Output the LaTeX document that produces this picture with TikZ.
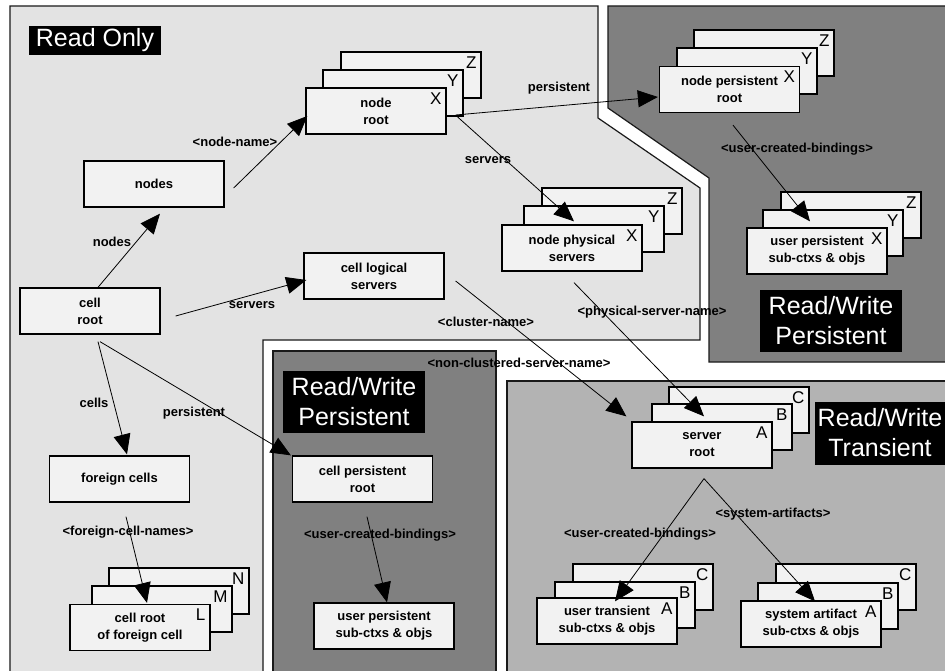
\documentclass[tikz,border=0pt]{standalone}
\usepackage{fontspec}
\setmainfont{Liberation Sans}
\usetikzlibrary{arrows.meta}
\definecolor{rofill}{HTML}{E3E3E3}
\definecolor{pfill}{HTML}{808080}
\definecolor{tfill}{HTML}{B3B3B3}
\definecolor{bfill}{HTML}{F2F2F2}
\definecolor{rim}{HTML}{1A1A1A}
\begin{document}
\begin{tikzpicture}[x=1pt,y=-1pt,
  region/.style={draw=rim, line width=1.2pt},
  ctx/.style={draw=black, line width=1.3pt, fill=bfill, minimum width=140pt,
    minimum height=46pt, inner sep=0pt, align=center,
    font=\fontsize{13}{17}\selectfont\bfseries},
  tag/.style={anchor=north east, inner sep=0pt, xshift=-5pt, yshift=-5pt,
    font=\fontsize{17}{17}\selectfont},
  lbl/.style={inner sep=0pt, font=\fontsize{13}{15}\selectfont\bfseries},
  zone/.style={fill=black, text=white, inner sep=0pt, align=center,
    font=\fontsize{25}{30}\selectfont},
  arr/.style={draw=black, line width=0.8pt, -{Triangle[length=20pt,width=17pt]}}
]
\useasboundingbox (0,0) rectangle (945,671);
\clip (0,0) rectangle (945,671);
\fill[white] (0,0) rectangle (945,671);

% access regions
\path[region, fill=rofill] (10,6) -- (598,6) -- (598,118) -- (700,188) -- (700,340)
  -- (263,340) -- (263,690) -- (10,690) -- cycle;
\path[region, fill=pfill] (608,6) -- (960,6) -- (960,362) -- (709,362) -- (709,178)
  -- (608,108) -- cycle;
\path[region, fill=pfill] (273,351) -- (496,351) -- (496,690) -- (273,690) -- cycle;
\path[region, fill=tfill] (507,381) -- (960,381) -- (960,690) -- (507,690) -- cycle;

% region titles
\node[zone, minimum width=132pt, minimum height=29pt] (tro) at (95,40.5) {Read Only};
\node[zone, minimum width=142pt, minimum height=62pt] (trwp) at (831,321) {Read/Write\\Persistent};
\node[zone, minimum width=142pt, minimum height=62pt] (trwc) at (354,402) {Read/Write\\Persistent};
\node[zone, minimum width=130pt, minimum height=63pt] (trwt) at (880,433) {Read/Write\\Transient};

% single contexts
\node[ctx] (nodes) at (154,184) {nodes};
\node[ctx] (cellroot) at (90,311) {cell\\root};
\node[ctx] (cls) at (374,276) {cell logical\\servers};
\node[ctx] (fc) at (119.5,479) {foreign cells};
\node[ctx] (cpr) at (362.5,479) {cell persistent\\root};
\node[ctx] (upc) at (384,626) {user persistent\\sub-ctxs \& objs};

% node root stack
\node[ctx] (nrZ) at (411,75) {};
\node[tag] (nrZt) at (nrZ.north east) {Z};
\node[ctx] (nrY) at (393,93) {};
\node[tag] (nrYt) at (nrY.north east) {Y};
\node[ctx] (nr) at (376,111) {node\\root};
\node[tag] (nrXt) at (nr.north east) {X};

% node persistent root stack
\node[ctx] (nprZ) at (764,53) {};
\node[tag] (nprZt) at (nprZ.north east) {Z};
\node[ctx] (nprY) at (747,71) {};
\node[tag] (nprYt) at (nprY.north east) {Y};
\node[ctx] (npr) at (729.5,89.5) {node persistent\\root};
\node[tag] (nprXt) at (npr.north east) {X};

% user persistent (node) stack
\node[ctx] (uptZ) at (851,215) {};
\node[tag] (uptZt) at (uptZ.north east) {Z};
\node[ctx] (uptY) at (833,233) {};
\node[tag] (uptYt) at (uptY.north east) {Y};
\node[ctx] (upt) at (817,251) {user persistent\\sub-ctxs \& objs};
\node[tag] (uptXt) at (upt.north east) {X};

% node physical servers stack
\node[ctx] (npsZ) at (612,211) {};
\node[tag] (npsZt) at (npsZ.north east) {Z};
\node[ctx] (npsY) at (594,229) {};
\node[tag] (npsYt) at (npsY.north east) {Y};
\node[ctx] (nps) at (572,248) {node physical\\servers};
\node[tag] (npsXt) at (nps.north east) {X};

% foreign cell root stack
\node[ctx] (crfN) at (179,591) {};
\node[tag] (crfNt) at (crfN.north east) {N};
\node[ctx] (crfM) at (162,609) {};
\node[tag] (crfMt) at (crfM.north east) {M};
\node[ctx] (crf) at (140,627.5) {cell root\\of foreign cell};
\node[tag] (crfLt) at (crf.north east) {L};

% server root stack
\node[ctx] (srC) at (739,410) {};
\node[tag] (srCt) at (srC.north east) {C};
\node[ctx] (srB) at (722,427) {};
\node[tag] (srBt) at (srB.north east) {B};
\node[ctx] (sr) at (702,445) {server\\root};
\node[tag] (srAt) at (sr.north east) {A};

% user transient stack
\node[ctx] (utC) at (643,587) {};
\node[tag] (utCt) at (utC.north east) {C};
\node[ctx] (utB) at (625,605) {};
\node[tag] (utBt) at (utB.north east) {B};
\node[ctx] (ut) at (607,621) {user transient\\sub-ctxs \& objs};
\node[tag] (utAt) at (ut.north east) {A};

% system artifact stack
\node[ctx] (saC) at (846,587) {};
\node[tag] (saCt) at (saC.north east) {C};
\node[ctx] (saB) at (828,606) {};
\node[tag] (saBt) at (saB.north east) {B};
\node[ctx] (sa) at (811,624) {system artifact\\sub-ctxs \& objs};
\node[tag] (saAt) at (sa.north east) {A};

% bindings
\draw[arr] ([xshift=8pt]cellroot.north) -- ([xshift=6pt,yshift=-6pt]nodes.south);
\draw[arr] ([xshift=9pt,yshift=-4pt]nodes.east) -- ([xshift=2pt,yshift=-5pt]nr.west);
\draw[arr] ([xshift=9pt,yshift=-4pt]nr.east) -- ([xshift=-1pt,yshift=-7.5pt]npr.west);
\draw[arr] ([xshift=11pt,yshift=-6pt]nr.east) -- ([xshift=2pt,yshift=3pt]nps.north);
\draw[arr] ([xshift=3.5pt,yshift=-12pt]npr.south) -- ([xshift=-7pt,yshift=6pt]upt.north);
\draw[arr] ([xshift=15pt,yshift=-5pt]cellroot.east) -- ([xshift=3pt,yshift=-4pt]cls.west);
\draw[arr] ([xshift=11pt,yshift=-5pt]cls.east) -- ([xshift=-5pt,yshift=5pt]sr.north west);
\draw[arr] ([xshift=2pt,yshift=-11pt]nps.south) -- ([xshift=2pt,yshift=5pt]sr.north);
\draw[arr] ([xshift=8pt,yshift=-7pt]cellroot.south) -- ([xshift=7.5pt,yshift=1pt]fc.north);
\draw[arr] ([xshift=10pt,yshift=-7pt]cellroot.south) -- ([xshift=-1pt]cpr.north west);
\draw[arr] ([xshift=6.5pt,yshift=-14pt]fc.south) -- ([xshift=7pt,yshift=1pt]crf.north);
\draw[arr] ([xshift=4.5pt,yshift=-14pt]cpr.south) -- ([xshift=3pt]upc.north);
\draw[arr] ([xshift=2pt,yshift=-10pt]sr.south) -- ([xshift=8pt,yshift=-4pt]ut.north);
\draw[arr] ([xshift=2pt,yshift=-10pt]sr.south) -- ([xshift=4pt,yshift=-1pt]sa.north);

% binding names
\node[lbl] (lnodes) at (112,242) {nodes};
\node[lbl] (lnname) at (235,142) {<node-name>};
\node[lbl] (lnpers) at (559,88) {persistent};
\node[lbl] (lnserv) at (488,160) {servers};
\node[lbl] (lnucb) at (797,149) {<user-created-bindings>};
\node[lbl] (lcserv) at (252,305) {servers};
\node[lbl] (lclus) at (486,322) {<cluster-name>};
\node[lbl] (lnonc) at (519,363) {<non-clustered-server-name>};
\node[lbl] (lphys) at (652,312) {<physical-server-name>};
\node[lbl] (lcells) at (94,403) {cells};
\node[lbl] (lcpers) at (194,413) {persistent};
\node[lbl] (lfcn) at (128,532) {<foreign-cell-names>};
\node[lbl] (lcucb) at (380,535) {<user-created-bindings>};
\node[lbl] (ltucb) at (640,534) {<user-created-bindings>};
\node[lbl] (lsys) at (773,514) {<system-artifacts>};
\end{tikzpicture}
\end{document}
